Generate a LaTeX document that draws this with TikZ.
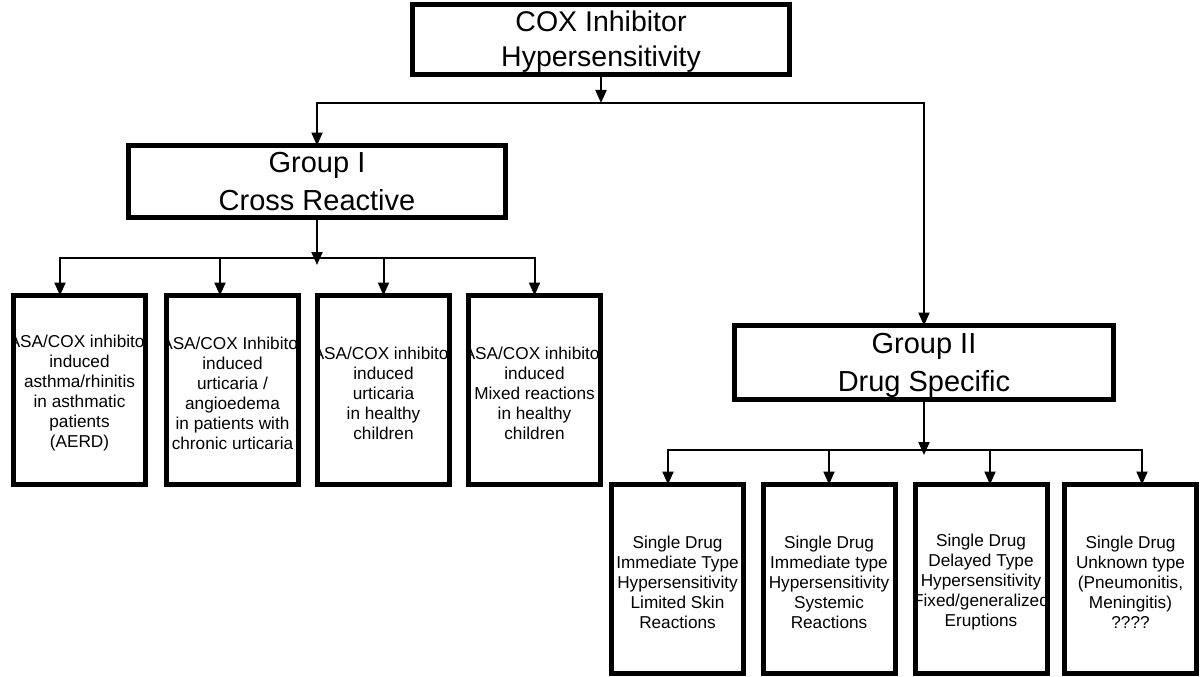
\documentclass[tikz,border=0pt]{standalone}
\usepackage{fontspec}
\setmainfont{Liberation Sans}
\usetikzlibrary{arrows.meta,calc}
\begin{document}
\begin{tikzpicture}[x=1pt,y=-1pt,
  bigbox/.style={draw, line width=5pt, inner sep=0pt, outer sep=0pt, align=center, font=\fontsize{28.5}{35}\selectfont},
  grpbox/.style={bigbox, font=\fontsize{29}{37.5}\selectfont},
  leaftxt/.style={align=center, inner sep=0pt, font=\fontsize{17.2}{20}\selectfont},
  leafbox/.style={draw, line width=5pt, inner sep=0pt, outer sep=0pt, minimum width=132pt, minimum height=189pt,
    path picture={\node[leaftxt, yshift=-3pt] at (path picture bounding box.center) {#1};}},
  conn/.style={line width=2pt, -{Triangle[width=11pt,length=13pt]}},
  plain/.style={line width=2pt}
]
\fill[white] (0,0) rectangle (1200,677);
\useasboundingbox (0,0) rectangle (1200,677);

% main boxes
\node[bigbox, minimum width=377pt, minimum height=70pt,
  path picture={\node[font=\fontsize{28.5}{35}\selectfont, align=center, inner sep=0pt, yshift=-2pt] at (path picture bounding box.center) {COX Inhibitor\\Hypersensitivity};}] (top) at (601,39.5) {};
\node[grpbox, minimum width=377pt, minimum height=72pt] (g1) at (317,181.5) {Group I\\Cross Reactive};
\node[grpbox, minimum width=379pt, minimum height=74pt,
  path picture={\node[font=\fontsize{29}{38}\selectfont, align=center, inner sep=0pt, yshift=-3pt] at (path picture bounding box.center) {Group II\\Drug Specific};}] (g2) at (924,362.5) {};

% left leaves
\node[leafbox={ASA/COX inhibitor\\induced\\asthma/rhinitis\\in asthmatic\\patients\\(AERD)}] (b1) at (79.5,390) {};
\node[leafbox={ASA/COX Inhibitor\\induced\\urticaria /\\angioedema\\in patients with\\chronic urticaria}] (b2) at (232.5,390) {};
\node[leafbox={ASA/COX inhibitor\\induced\\urticaria\\in healthy\\children}] (b3) at (383.5,390) {};
\node[leafbox={ASA/COX inhibitor\\induced\\Mixed reactions\\in healthy\\children}] (b4) at (534.5,390) {};

% right leaves
\node[leafbox={Single Drug\\Immediate Type\\Hypersensitivity\\Limited Skin\\Reactions}] (c1) at (677.5,579) {};
\node[leafbox={Single Drug\\Immediate type\\Hypersensitivity\\Systemic\\Reactions}] (c2) at (829,579) {};
\node[leafbox={Single Drug\\Delayed Type\\Hypersensitivity\\Fixed/generalized\\Eruptions}] (c3) at (981,579) {};
\node[leafbox={Single Drug\\Unknown type\\(Pneumonitis,\\Meningitis)\\????}] (c4) at (1130.5,579) {};

% junctions
\coordinate (j0) at (601,103);
\coordinate (j1) at (317,258);
\coordinate (j2) at (924,450);

% connectors
\draw[conn] (top.south) -- (j0);
\draw[conn] (j0) -| (g1.north);
\draw[conn] (j0) -| (g2.north);

\draw[conn] (g1.south) -- ([yshift=-7pt]j1);
\draw[conn] (j1) -| ([xshift=-19.5pt]b1.north);
\draw[conn] (j1) -| ([xshift=-12.5pt]b2.north);
\draw[conn] (j1) -| (b3.north);
\draw[conn] (j1) -| (b4.north);

\draw[conn] (g2.south) -- ([yshift=-5pt]j2);
\draw[conn] (j2) -| ([xshift=-9.5pt]c1.north);
\draw[conn] (j2) -| (c2.north);
\draw[conn] (j2) -| ([xshift=9pt]c3.north);
\draw[conn] (j2) -| ([xshift=11.5pt]c4.north);
\end{tikzpicture}
\end{document}
